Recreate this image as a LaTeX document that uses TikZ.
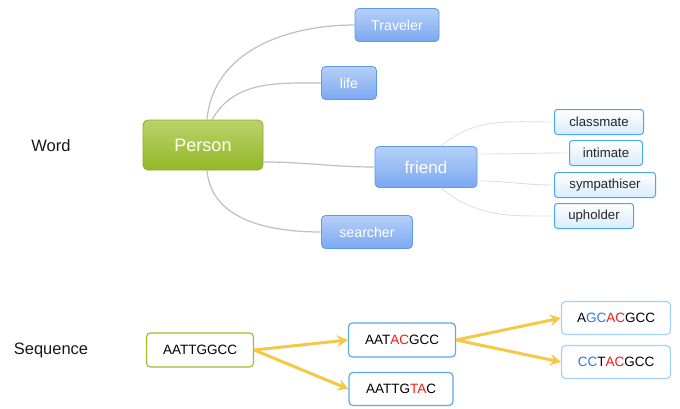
\documentclass[tikz,border=0pt]{standalone}
\usepackage{fontspec}
\setmainfont{Liberation Sans}
\usetikzlibrary{arrows.meta,positioning}
\definecolor{leafgreen}{HTML}{9CC02A}
\definecolor{topicblue}{HTML}{7BA8F2}
\definecolor{edgeblue}{HTML}{5C9AF0}
\definecolor{subblue}{HTML}{4AA6F2}
\definecolor{seqblue}{HTML}{5AA8F5}
\definecolor{pathgold}{HTML}{F5C947}
\definecolor{mutred}{HTML}{EE1C1C}
\definecolor{mutblue}{HTML}{2D7BD2}
\newcommand{\rd}[1]{\textcolor{mutred}{#1}}
\newcommand{\bl}[1]{\textcolor{mutblue}{#1}}

\begin{document}
\begin{tikzpicture}[x=1pt,y=-1pt,
  central/.style={draw=leafgreen!90!black,line width=0.8pt,rounded corners=5pt,
    top color=leafgreen!70!white,bottom color=leafgreen!95!black,
    text=white,font=\fontsize{18}{20}\selectfont,
    minimum width=120pt,minimum height=50pt,inner sep=0pt},
  topic/.style={draw=edgeblue,line width=0.8pt,rounded corners=4pt,
    top color=topicblue!55!white,bottom color=topicblue,
    text=white,font=\fontsize{14.2}{16}\selectfont,
    minimum height=33pt,inner sep=0pt},
  subtopic/.style={draw=subblue,line width=1pt,rounded corners=3pt,
    top color=white,bottom color=subblue!22!white,
    text=black!85,font=\fontsize{13.2}{15}\selectfont,
    minimum height=25pt,inner sep=0pt},
  branch/.style={draw=black!25,line width=1.2pt},
  twig/.style={draw=black!12,line width=0.9pt},
  label/.style={font=\fontsize{16.5}{18}\selectfont,text=black!90},
  seq/.style={draw=seqblue,line width=1.2pt,rounded corners=4pt,fill=white,
    font=\fontsize{13.5}{15}\selectfont,minimum width=107pt,minimum height=34pt,
    inner sep=0pt},
  path/.style={draw=pathgold,line width=3pt,
    -{Stealth[length=11pt,width=12pt,inset=4pt]}}
]
\useasboundingbox (0,0) rectangle (680,408);

% word tree
\node[label] (word) at (51,146) {Word};
\node[central] (person) at (203,145) {Person};
\node[topic,minimum width=84pt] (traveler) at (397,25) {Traveler};
\node[topic,minimum width=55pt] (life) at (349,83) {life};
\node[topic,minimum width=102pt,minimum height=41pt,
  font=\fontsize{17}{19}\selectfont] (friend) at (426,167) {friend};
\node[topic,minimum width=91pt] (searcher) at (367,232) {searcher};

\node[subtopic,minimum width=89pt] (classmate) at (599,122) {classmate};
\node[subtopic,minimum width=73pt] (intimate) at (606,153) {intimate};
\node[subtopic,minimum width=101pt] (sympathiser) at (605,185) {sympathiser};
\node[subtopic,minimum width=79pt] (upholder) at (594,216) {upholder};

\draw[branch] ([xshift=4pt]person.north) to[out=85,in=180] (traveler.west);
\draw[branch] ([xshift=9pt]person.north) to[out=60,in=180] (life.west);
\draw[branch] ([yshift=-17pt]person.east) to[out=0,in=180] (friend.west);
\draw[branch] ([xshift=4pt]person.south) to[out=-85,in=180] (searcher.west);

\draw[twig] ([xshift=15pt]friend.north) to[out=40,in=180] (classmate.west);
\draw[twig] ([yshift=13pt]friend.east) to[out=0,in=180] (intimate.west);
\draw[twig] ([yshift=-14pt]friend.east) to[out=0,in=180] (sympathiser.west);
\draw[twig] ([xshift=15pt]friend.south) to[out=-40,in=180] (upholder.west);

% sequence tree
\node[label] (sequence) at (51,350) {Sequence};
\node[seq,draw=leafgreen] (seed) at (200,350) {AATTGGCC};
\node[seq] (mutA) at (402,340) {AAT\rd{AC}GCC};
\node[seq,minimum width=104pt,minimum height=33pt] (mutB) at (401,389) {AATTG\rd{TA}C};
\node[seq,draw=seqblue!55,minimum width=109pt,minimum height=33pt] (mutAA) at (616,318)
  {A\bl{GC}\rd{AC}GCC};
\node[seq,draw=seqblue!55,minimum width=109pt,minimum height=33pt] (mutAB) at (616,362)
  {\bl{CC}T\rd{AC}GCC};

\draw[path] (seed.east) -- (mutA.west);
\draw[path] (seed.east) -- (mutB.west);
\draw[path] (mutA.east) -- (mutAA.west);
\draw[path] (mutA.east) -- (mutAB.west);
\end{tikzpicture}
\end{document}
